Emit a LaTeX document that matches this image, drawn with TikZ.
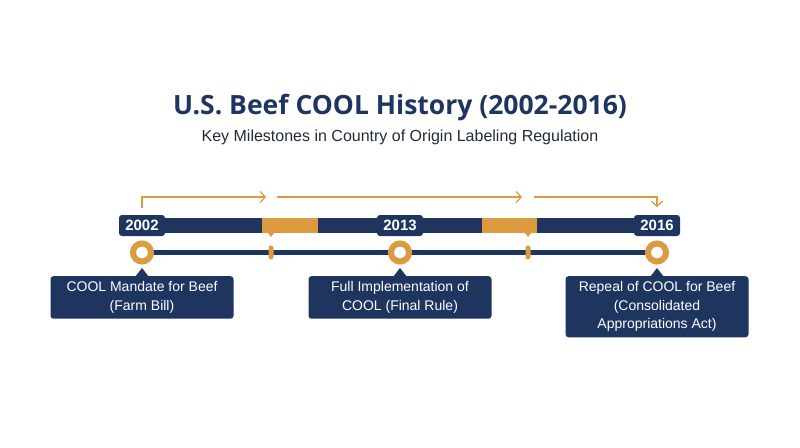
\documentclass[tikz,border=0pt]{standalone}
\usepackage{fontspec}
\setmainfont{Liberation Sans}
\newfontfamily\titlefont{Open Sans}
\usetikzlibrary{arrows.meta}
\definecolor{navy}{HTML}{1E3560}
\definecolor{gold}{HTML}{DB9B3E}
\definecolor{subgray}{HTML}{232B38}
\begin{document}
\begin{tikzpicture}[x=1pt,y=-1pt,
  yearbox/.style={fill=navy,text=white,rounded corners=3pt,minimum width=46pt,minimum height=21pt,inner sep=0pt,font=\fontsize{15}{16}\selectfont\bfseries},
  ring/.style={circle,draw=gold,line width=6pt,fill=white,minimum size=18pt,inner sep=0pt},
  tickmark/.style={fill=gold,rounded corners=2.5pt,minimum width=5pt,minimum height=14pt,inner sep=0pt},
  infobox/.style={fill=navy,text=white,rounded corners=3pt,minimum width=183pt,align=center,anchor=north,inner ysep=5.5pt,font=\fontsize{14}{18.5}\selectfont},
  flow/.style={gold,line width=1.2pt,-{Straight Barb[length=5pt,width=11pt]}}]
\useasboundingbox[fill=white] (0,0) rectangle (800,447);

% heading
\node[anchor=base,text=navy,font=\titlefont\fontsize{26.5}{30}\selectfont\bfseries] (title) at (400,114) {U.S. Beef COOL History (2002-2016)};
\node[anchor=base,text=subgray,font=\fontsize{16}{18}\selectfont] (subtitle) at (400,141) {Key Milestones in Country of Origin Labeling Regulation};

% arrows above the bar
\coordinate (a0) at (142,208);
\coordinate (a1) at (266,197);
\coordinate (b0) at (277,197);
\coordinate (b1) at (522,197);
\coordinate (c0) at (534,197);
\coordinate (c1) at (657,207);
\draw[flow] (a0) |- (a1);
\draw[flow] (b0) -- (b1);
\draw[flow] (c0) -| (c1);

% top bar
\fill[navy] (142,218) rectangle (657,233);
\fill[gold] (262,218) rectangle (318,233);
\fill[gold] (482,218) rectangle (537,233);
\fill[gold] (268,233) -- (271,237) -- (274,233) -- cycle;
\fill[gold] (525,233) -- (528,237) -- (531,233) -- cycle;
\node[yearbox] (y1) at (142,225.5) {2002};
\node[yearbox] (y2) at (400,225.5) {2013};
\node[yearbox] (y3) at (657,225.5) {2016};

% lower line
\coordinate (l1) at (142,252.5);
\coordinate (l2) at (400,252.5);
\coordinate (l3) at (657,252.5);
\draw[navy,line width=5pt] (l1) -- (l3);
\node[tickmark] (t1) at (271,252.5) {};
\node[tickmark] (t2) at (528,252.5) {};
\node[ring] (d1) at (l1) {};
\node[ring] (d2) at (l2) {};
\node[ring] (d3) at (l3) {};

% milestones
\node[infobox] (m1) at (142,276) {COOL Mandate for Beef\\(Farm Bill)};
\node[infobox] (m2) at (400,276) {Full Implementation of\\COOL (Final Rule)};
\node[infobox] (m3) at (657,276) {Repeal of COOL for Beef\\(Consolidated\\Appropriations Act)};
\fill[navy] ([xshift=-7pt,yshift=-1pt]m1.north) -- ([yshift=8pt]m1.north) -- ([xshift=7pt,yshift=-1pt]m1.north) -- cycle;
\fill[navy] ([xshift=-7pt,yshift=-1pt]m2.north) -- ([yshift=8pt]m2.north) -- ([xshift=7pt,yshift=-1pt]m2.north) -- cycle;
\fill[navy] ([xshift=-7pt,yshift=-1pt]m3.north) -- ([yshift=8pt]m3.north) -- ([xshift=7pt,yshift=-1pt]m3.north) -- cycle;
\end{tikzpicture}
\end{document}
